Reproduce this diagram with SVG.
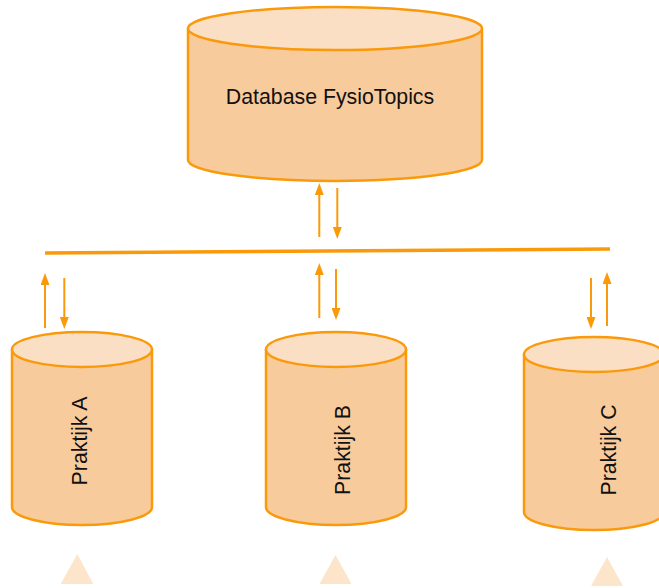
<svg xmlns="http://www.w3.org/2000/svg" width="659" height="588" viewBox="0 0 659 588">
<defs>
<style>
.body{fill:#F8CB9D;stroke:#FA9A0A;stroke-width:2.5}
.top{fill:#FADFC4;stroke:#FA9A0A;stroke-width:2.5}
.lbl{font-family:"Liberation Sans",Arial,sans-serif;font-size:21.3px;fill:#111111}
.arr{stroke:#FA9A0A;stroke-width:2;fill:none;marker-end:url(#ah)}
.bus{stroke:#FA9A0A;stroke-width:3.5;fill:none}
.tri{fill:#FDE5CC}
</style>
<marker id="ah" markerWidth="12" markerHeight="9" refX="0" refY="4.5" viewBox="0 0 12 9" orient="auto" markerUnits="userSpaceOnUse">
<path d="M0,0 L12,4.5 L0,9 Z" fill="#FA9A0A"/>
</marker>
</defs>
<rect width="659" height="588" fill="#FFFFFF"/>
<g id="db">
<path class="body" d="M188,28 L188,160 A147,21 0 0 0 482,160 L482,28"/>
<ellipse class="top" cx="335" cy="28.5" rx="147" ry="21.5"/>
<text class="lbl" x="330" y="104" text-anchor="middle">Database FysioTopics</text>
</g>
<g id="praktijkA">
<path class="body" d="M12,349 L12,507 A70,18 0 0 0 152,507 L152,349"/>
<ellipse class="top" cx="82" cy="349.5" rx="70" ry="17.5"/>
<text class="lbl" transform="translate(86.5,441) rotate(-90)" text-anchor="middle">Praktijk A</text>
</g>
<g id="praktijkB">
<path class="body" d="M266,349 L266,507 A70,18 0 0 0 406,507 L406,349"/>
<ellipse class="top" cx="336" cy="349.5" rx="70" ry="17.5"/>
<text class="lbl" transform="translate(349.5,450) rotate(-90)" text-anchor="middle">Praktijk B</text>
</g>
<g id="praktijkC">
<path class="body" d="M524,354 L524,512 A70,18 0 0 0 664,512 L664,354"/>
<ellipse class="top" cx="594" cy="354.5" rx="70" ry="17.5"/>
<text class="lbl" transform="translate(615.5,450) rotate(-90)" text-anchor="middle">Praktijk C</text>
</g>
<g id="triangles">
<polygon class="tri" points="77.3,554 60.7,584 93.3,584"/>
<polygon class="tri" points="335.5,555 319.5,584 351.5,584"/>
<polygon class="tri" points="607,557 591,586 623,586"/>
</g>
<g id="connectors">
<path class="bus" d="M45,253 L610,249"/>
<line class="arr" x1="319.3" y1="237" x2="319.3" y2="195"/>
<line class="arr" x1="337.3" y1="188" x2="337.3" y2="227"/>
<line class="arr" x1="45" y1="328" x2="45" y2="285"/>
<line class="arr" x1="64.3" y1="278" x2="64.3" y2="317"/>
<line class="arr" x1="319.3" y1="318" x2="319.3" y2="275"/>
<line class="arr" x1="336" y1="269" x2="336" y2="308"/>
<line class="arr" x1="591" y1="278" x2="591" y2="317"/>
<line class="arr" x1="607" y1="326" x2="607" y2="284"/>
</g>
</svg>
